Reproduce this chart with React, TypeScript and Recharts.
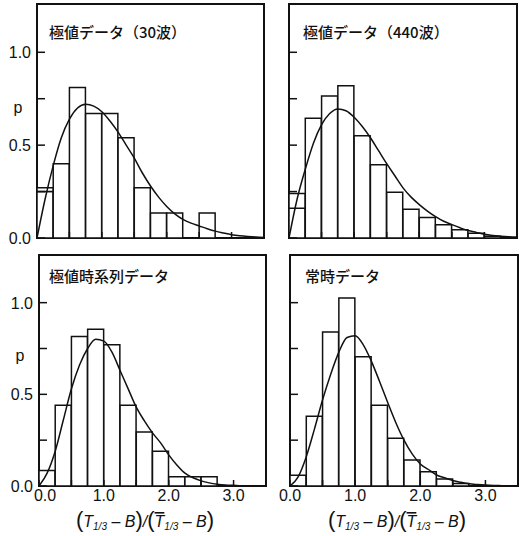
import React from "react";
import { ComposedChart, Bar, Line, XAxis, YAxis, ReferenceArea } from "recharts";

// histogram bins, 0.25 wide, starting at 0
const binStarts = ["0.00", "0.25", "0.50", "0.75", "1.00", "1.25", "1.50", "1.75", "2.00", "2.25", "2.50", "2.75", "3.00", "3.25"];
// x positions of the fitted curve samples
const curveX = [0, 0.125, 0.25, 0.375, 0.5, 0.625, 0.75, 0.875, 1, 1.125, 1.25, 1.375, 1.5, 1.625, 1.75, 1.875, 2, 2.125, 2.25, 2.375, 2.5, 2.625, 2.75, 2.875, 3, 3.125, 3.25, 3.375, 3.5];

// 極値データ（30波）
const bars30 = [0.27, 0.40, 0.81, 0.67, 0.67, 0.54, 0.27, 0.135, 0.135, 0, 0.135, 0, 0, 0];
const inner30 = [0.25];
const curve30 = [0, 0.21, 0.39, 0.54, 0.64, 0.7, 0.72, 0.71, 0.68, 0.63, 0.57, 0.5, 0.43, 0.35, 0.28, 0.22, 0.17, 0.13, 0.1, 0.08, 0.065, 0.05, 0.037, 0.027, 0.018, 0.012, 0.008, 0.005, 0.003];

// 極値データ（440波）
const bars440 = [0.24, 0.645, 0.765, 0.82, 0.55, 0.395, 0.246, 0.155, 0.11, 0.072, 0.045, 0.025, 0.01, 0];
const inner440 = [0.16];
const curve440 = [0, 0.21, 0.37, 0.51, 0.61, 0.67, 0.695, 0.685, 0.65, 0.6, 0.54, 0.47, 0.4, 0.335, 0.27, 0.22, 0.18, 0.145, 0.115, 0.09, 0.072, 0.055, 0.04, 0.03, 0.02, 0.014, 0.01, 0.007, 0.005];

// 極値時系列データ
const barsSeries = [0.085, 0.44, 0.815, 0.855, 0.77, 0.44, 0.295, 0.19, 0.05, 0.05, 0.05, 0, 0, 0];
const curveSeries = [0, 0.07, 0.19, 0.36, 0.53, 0.66, 0.75, 0.8, 0.79, 0.73, 0.63, 0.53, 0.43, 0.355, 0.29, 0.235, 0.17, 0.115, 0.07, 0.045, 0.028, 0.017, 0.01, 0.006, 0.004, 0.002, 0.001, 0, 0];

// 常時データ
const barsNormal = [0.058, 0.38, 0.84, 1.025, 0.705, 0.44, 0.26, 0.142, 0.078, 0.038, 0.013, 0, 0, 0];
const curveNormal = [0, 0.05, 0.16, 0.31, 0.47, 0.61, 0.73, 0.81, 0.82, 0.77, 0.68, 0.57, 0.455, 0.345, 0.25, 0.175, 0.12, 0.09, 0.06, 0.045, 0.03, 0.02, 0.012, 0.008, 0.005, 0.003, 0.002, 0.001, 0];

const xTicks = [0, 0.5, 1, 1.5, 2, 2.5, 3];
const yTicks = [0, 0.25, 0.5, 0.75, 1];
const X_MAX = 3.5;
const Y_MAX = 1.26;

const INK = "#111";
const NUM_FONT = "'Liberation Sans', Arial, sans-serif";
const JP_FONT = "'Noto Sans CJK JP', sans-serif";

function YTick({ x, y, payload, showLabel }: any) {
  const v = payload.value;
  return (
    <g>
      <line x1={x} x2={x + 8} y1={y} y2={y} stroke={INK} strokeWidth={1.5} />
      {showLabel && v % 0.5 === 0 && (
        <text x={x - 6} y={y + 6} textAnchor="end" fontFamily={NUM_FONT} fontSize={16} fill={INK}>
          {v.toFixed(1)}
        </text>
      )}
    </g>
  );
}

// base = the plot's bottom edge inside this chart's svg
function XTick({ x, payload, showLabel, base, zeroShift }: any) {
  const v = payload.value;
  // the "0.0" under the left panels sits a little right, clear of the y label
  const lx = v === 0 ? x + zeroShift : x;
  return (
    <g>
      <line x1={x} x2={x} y1={base} y2={base - 6} stroke={INK} strokeWidth={1.5} />
      {showLabel && Number.isInteger(v) && (
        <text x={lx} y={base + 14.5} textAnchor="middle" fontFamily={NUM_FONT} fontSize={16} fill={INK}>
          {v.toFixed(1)}
        </text>
      )}
    </g>
  );
}

function Panel({ bars, inner = [], curve, left, top, width, height, axisW, mTop, mRight, axisH, yLabels, xLabels }: any) {
  const barRows = binStarts.map((bin, i) => {
    const base = inner[i] ?? bars[i];
    return { bin, base, rest: bars[i] - base };
  });
  const curveRows = curveX.map((x, i) => ({ x, y: curve[i] }));
  const plotBottom = height - axisH;

  return (
    <div style={{ position: "absolute", left, top }}>
      <ComposedChart
        width={width}
        height={height}
        data={barRows}
        margin={{ top: mTop, right: mRight, bottom: 0, left: 0 }}
        barCategoryGap={0}
      >
        <XAxis xAxisId="cat" dataKey="bin" type="category" hide />
        <XAxis
          xAxisId="num"
          dataKey="x"
          type="number"
          domain={[0, X_MAX]}
          ticks={xTicks}
          interval={0}
          height={axisH}
          axisLine={false}
          tickLine={false}
          tickSize={0}
          tickMargin={0}
          allowDataOverflow
          tick={(p: any) => (
            <XTick {...p} showLabel={xLabels} base={plotBottom} zeroShift={yLabels ? 6 : 0} />
          )}
        />
        <YAxis
          yAxisId="p"
          type="number"
          domain={[0, Y_MAX]}
          ticks={yTicks}
          interval={0}
          width={axisW}
          axisLine={false}
          tickLine={false}
          tickSize={0}
          tickMargin={0}
          allowDataOverflow
          tick={(p: any) => <YTick {...p} showLabel={yLabels} />}
        />
        <Bar xAxisId="cat" yAxisId="p" dataKey="base" stackId="h" fill="#fff" stroke={INK} strokeWidth={1.5} isAnimationActive={false} />
        <Bar xAxisId="cat" yAxisId="p" dataKey="rest" stackId="h" fill="#fff" stroke={INK} strokeWidth={1.5} isAnimationActive={false} />
        <Line
          xAxisId="num"
          yAxisId="p"
          data={curveRows}
          dataKey="y"
          type="monotone"
          stroke={INK}
          strokeWidth={1.5}
          dot={false}
          isAnimationActive={false}
        />
        <ReferenceArea
          xAxisId="num"
          yAxisId="p"
          x1={0}
          x2={X_MAX}
          y1={0}
          y2={Y_MAX}
          fill="none"
          stroke={INK}
          strokeWidth={2}
          ifOverflow="visible"
        />
      </ComposedChart>
    </div>
  );
}

function AxisTitle({ cx }: { cx: number }) {
  const big = { fontSize: 22 };
  const sub = { fontSize: 10, fontStyle: "italic" as const };
  return (
    <text x={cx} y={527} textAnchor="middle" fontFamily={NUM_FONT} fontSize={16} fill={INK}>
      <tspan style={big}>(</tspan>
      <tspan fontStyle="italic">T</tspan>
      <tspan style={sub} dy={3}>1/3</tspan>
      <tspan dy={-3}> – </tspan>
      <tspan fontStyle="italic">B</tspan>
      <tspan style={big}>)</tspan>
      <tspan fontStyle="italic">/</tspan>
      <tspan style={big}>(</tspan>
      <tspan fontStyle="italic" style={{ textDecoration: "overline" }}>T</tspan>
      <tspan style={sub} dy={3}>1/3</tspan>
      <tspan dy={-3}> – </tspan>
      <tspan fontStyle="italic">B</tspan>
      <tspan style={big}>)</tspan>
    </text>
  );
}

export default function App() {
  return (
    <div style={{ position: "absolute", left: 0, top: 0, width: 524, height: 536, background: "#fff" }}>
      <Panel bars={bars30} inner={inner30} curve={curve30} left={0} top={0} width={270} height={250}
        axisW={37} mTop={4} mRight={6} axisH={12} yLabels xLabels={false} />
      <Panel bars={bars440} inner={inner440} curve={curve440} left={260} top={0} width={264} height={250}
        axisW={29} mTop={4} mRight={7} axisH={12} yLabels={false} xLabels={false} />
      <Panel bars={barsSeries} curve={curveSeries} left={0} top={250} width={270} height={286}
        axisW={39} mTop={5} mRight={4} axisH={50} yLabels xLabels />
      <Panel bars={barsNormal} curve={curveNormal} left={260} top={250} width={264} height={286}
        axisW={30} mTop={5} mRight={6} axisH={50} yLabels={false} xLabels />

      <svg width={524} height={536} style={{ position: "absolute", left: 0, top: 0, pointerEvents: "none" }}>
        <g fontFamily={JP_FONT} fontSize={15} fontWeight={500} fill={INK}>
          <text x={49} y={38}>極値データ（30波）</text>
          <text x={303} y={38}>極値データ（440波）</text>
          <text x={49} y={282}>極値時系列データ</text>
          <text x={305} y={282}>常時データ</text>
        </g>
        <g fontFamily={NUM_FONT} fontSize={16} fill={INK} textAnchor="middle">
          <text x={18} y={113}>p</text>
          <text x={20} y={361}>p</text>
        </g>
        <AxisTitle cx={145} />
        <AxisTitle cx={397} />
      </svg>
    </div>
  );
}
